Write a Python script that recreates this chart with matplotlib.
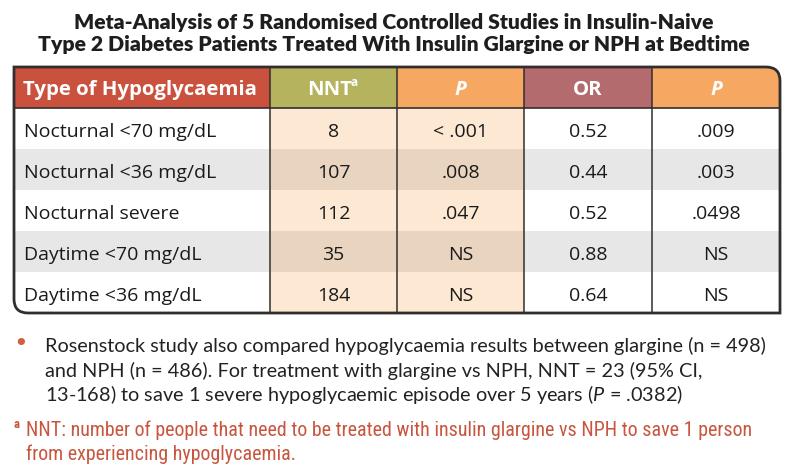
import matplotlib
matplotlib.use('Agg')
import matplotlib.pyplot as plt
from matplotlib import font_manager
from matplotlib.path import Path
from matplotlib.patches import PathPatch, Rectangle

# table content
col_headers = ['Type of Hypoglycaemia', 'NNT', 'P', 'OR', 'P']
hypo_types = ['Nocturnal <70 mg/dL', 'Nocturnal <36 mg/dL', 'Nocturnal severe',
              'Daytime <70 mg/dL', 'Daytime <36 mg/dL']
nnt_values = ['8', '107', '112', '35', '184']
nnt_p = ['< .001', '.008', '.047', 'NS', 'NS']
or_values = ['0.52', '0.44', '0.52', '0.88', '0.64']
or_p = ['.009', '.003', '.0498', 'NS', 'NS']

title_lines = ['Meta-Analysis of 5 Randomised Controlled Studies in Insulin-Naive',
               'Type 2 Diabetes Patients Treated With Insulin Glargine or NPH at Bedtime']
bullet_lines = ['Rosenstock study also compared hypoglycaemia results between glargine (n = 498)',
                'and NPH (n = 486). For treatment with glargine vs NPH, NNT = 23 (95% CI,',
                r'13-168) to save 1 severe hypoglycaemic episode over 5 years ($\mathit{P}$ = .0382)']
foot_lines = ['NNT: number of people that need to be treated with insulin glargine vs NPH to save 1 person',
              'from experiencing hypoglycaemia.']

installed = {f.name for f in font_manager.fontManager.ttflist}


def pick(*names):
    for n in names:
        if n in installed:
            return n
    return 'DejaVu Sans'


NARROW = pick('Roboto Condensed', 'Liberation Sans Narrow', 'DejaVu Sans Condensed', 'Liberation Sans')
BODY = pick('Open Sans', 'Lato', 'Noto Sans', 'DejaVu Sans')
TITLE = pick('Lato', 'Roboto', 'Open Sans')
NOTE = pick('Lato', 'Roboto', 'Open Sans')

plt.rcParams['mathtext.fontset'] = 'custom'
plt.rcParams['mathtext.rm'] = NOTE
plt.rcParams['mathtext.it'] = NOTE + ':italic'

header_colors = ['#C9513D', '#B5B35D', '#F6A862', '#B46B6E', '#F6A862']
peach = '#FCE8D3'
peach_dark = '#E9D5BF'
grey = '#E7E7E7'
edge = '#332E2E'

col_x = [14, 270, 397, 524, 652, 780]
top = 67
head_h = 41
row_h = 41
bottom = top + head_h + row_h * len(hypo_types)

fig = plt.figure(figsize=(7.87, 4.73), dpi=100)
ax = fig.add_axes([0, 0, 1, 1])
ax.set_xlim(0, 787)
ax.set_ylim(473, 0)
ax.axis('off')

# title
for i, line in enumerate(title_lines):
    ax.text(393.5, 29 + i * 22, line, ha='center', va='baseline', fontsize=15.2,
            fontweight='heavy', family=TITLE, color='#1E1E1E')


def outline(x0, y0, x1, y1, r):
    verts = [(x0, y0), (x1 - r, y0), (x1, y0), (x1, y0 + r), (x1, y1),
             (x0 + r, y1), (x0, y1), (x0, y1 - r), (x0, y0)]
    codes = [Path.MOVETO, Path.LINETO, Path.CURVE3, Path.CURVE3, Path.LINETO,
             Path.LINETO, Path.CURVE3, Path.CURVE3, Path.CLOSEPOLY]
    return Path(verts, codes)


frame = PathPatch(outline(col_x[0], top, col_x[-1], bottom, 14),
                  facecolor='white', edgecolor='none', zorder=2)
ax.add_patch(frame)

# header cells
for j, c in enumerate(header_colors):
    r = Rectangle((col_x[j], top), col_x[j + 1] - col_x[j], head_h,
                  facecolor=c, edgecolor='none', zorder=3)
    r.set_clip_path(frame)
    ax.add_patch(r)

# body cells
columns = [hypo_types, nnt_values, nnt_p, or_values, or_p]
for i in range(len(hypo_types)):
    y = top + head_h + i * row_h
    shaded = i % 2 == 1
    for j in range(5):
        if j in (1, 2):
            fc = peach_dark if shaded else peach
        else:
            fc = grey if shaded else 'white'
        r = Rectangle((col_x[j], y), col_x[j + 1] - col_x[j], row_h,
                      facecolor=fc, edgecolor='none', zorder=3)
        r.set_clip_path(frame)
        ax.add_patch(r)
    base = y + row_h / 2 + 8
    for j in range(5):
        if j == 0:
            ax.text(col_x[0] + 10, base, columns[j][i], ha='left', va='baseline',
                    fontsize=14, family=BODY, color='#1A1A1A', zorder=5)
        else:
            ax.text((col_x[j] + col_x[j + 1]) / 2, base, columns[j][i],
                    ha='center', va='baseline', fontsize=14, family=BODY,
                    color='#1A1A1A', zorder=5)

# header text
hy = top + head_h / 2 + 7.5
ax.text(col_x[0] + 9, hy, col_headers[0], ha='left', va='baseline', fontsize=14.7,
        fontweight='bold', family=BODY, color='white', zorder=5)
cx = (col_x[1] + col_x[2]) / 2
ax.text(cx - 4, hy, col_headers[1], ha='center', va='baseline', fontsize=14.7,
        fontweight='bold', family=BODY, color='white', zorder=5)
ax.text(cx + 17, hy - 9, 'a', ha='left', va='baseline', fontsize=8.5,
        fontweight='bold', family=BODY, color='white', zorder=5)
for j in (2, 3, 4):
    ax.text((col_x[j] + col_x[j + 1]) / 2, hy, col_headers[j], ha='center', va='baseline',
            fontsize=14.7, fontweight='bold', family=BODY, color='white',
            style='italic' if col_headers[j] == 'P' else 'normal', zorder=5)

# grid lines
for x in col_x[1:-1]:
    ax.plot([x, x], [top, bottom], color=edge, lw=1.1, zorder=6)
ax.plot([col_x[0], col_x[-1]], [top + head_h, top + head_h], color=edge, lw=1.2, zorder=6)
border = PathPatch(outline(col_x[0], top, col_x[-1], bottom, 14),
                   facecolor='none', edgecolor=edge, lw=2.0, zorder=7)
ax.add_patch(border)

# bullet note
ax.text(21, 344, '\u2022', ha='center', va='center', fontsize=18, color='#D2603F')
for i, line in enumerate(bullet_lines):
    ax.text(45, 352 + i * 24.5, line, ha='left', va='baseline', fontsize=14.3,
            family=NOTE, color='#222222')

# footnote
ax.text(14, 428, 'a', ha='left', va='baseline', fontsize=9, family=NARROW,
        fontweight='bold', color='#C8553F')
for i, line in enumerate(foot_lines):
    ax.text(26, 436 + i * 23.5, line, ha='left', va='baseline', fontsize=14.4,
            family=NARROW, color='#C8553F')

fig.savefig('out.png', dpi=100)
plt.close(fig)
